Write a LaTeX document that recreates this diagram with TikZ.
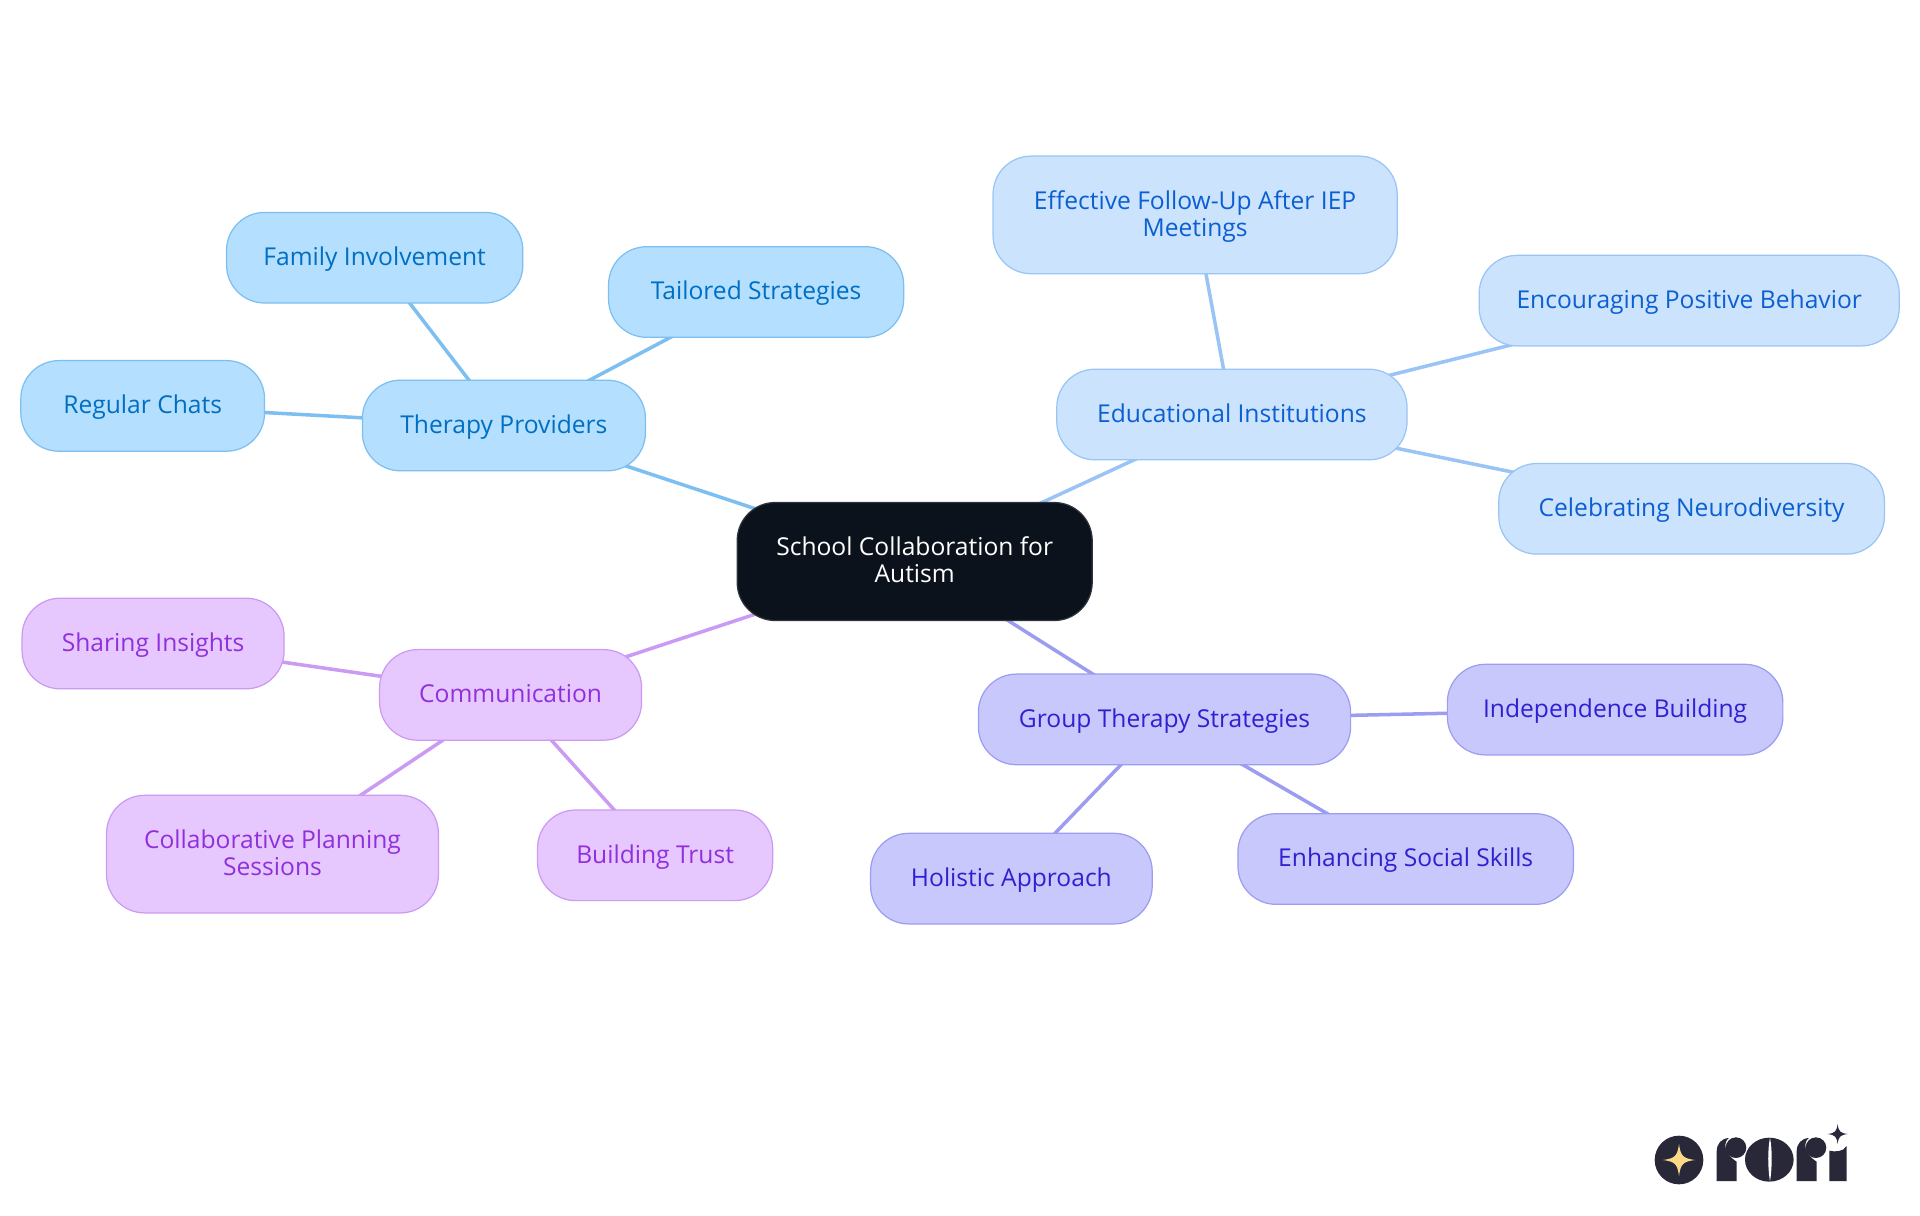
\documentclass[tikz,border=0pt]{standalone}
\usepackage{fontspec}
\setmainfont{Open Sans}
\usepackage{tikz}
\usetikzlibrary{backgrounds}
\definecolor{rootfill}{HTML}{0B121B}
\definecolor{rootline}{HTML}{2E343C}
\definecolor{therapyfill}{HTML}{B4DFFF}
\definecolor{therapyline}{HTML}{7CBFF0}
\definecolor{therapytext}{HTML}{006EC2}
\definecolor{schoolfill}{HTML}{CCE3FD}
\definecolor{schoolline}{HTML}{99C4F5}
\definecolor{schooltext}{HTML}{0B5FD1}
\definecolor{groupfill}{HTML}{C8C8FD}
\definecolor{groupline}{HTML}{9C9CF0}
\definecolor{grouptext}{HTML}{3020CF}
\definecolor{commfill}{HTML}{E6C8FE}
\definecolor{commline}{HTML}{CB9AF3}
\definecolor{commtext}{HTML}{9030DD}
\definecolor{logodark}{HTML}{292838}
\definecolor{logogold}{HTML}{FBD988}

\begin{document}
\begin{tikzpicture}[x=1cm, y=-1cm,
    box/.style={rectangle, draw, align=center, rounded corners=0.38cm, inner sep=0pt, minimum height=0.906cm, line width=0.35pt, text height=6.8pt, text depth=2.3pt, font=\fontsize{7}{7.75}\selectfont},
    tallbox/.style={box, minimum height=1.176cm, text height=14.5pt},
    rootbox/.style={tallbox, fill=rootfill, draw=rootline, text=white, minimum height=1.18cm},
    therapybox/.style={fill=therapyfill, draw=therapyline, text=therapytext},
    schoolbox/.style={fill=schoolfill, draw=schoolline, text=schooltext},
    groupbox/.style={fill=groupfill, draw=groupline, text=grouptext},
    commbox/.style={fill=commfill, draw=commline, text=commtext},
    link/.style={line width=1pt},
    sparkle/.pic={\path[fill] (0,-1) .. controls (0.1,-0.25) and (0.25,-0.1) .. (1,0) .. controls (0.25,0.1) and (0.1,0.25) .. (0,1) .. controls (-0.1,0.25) and (-0.25,0.1) .. (-1,0) .. controls (-0.25,-0.1) and (-0.1,-0.25) .. (0,-1) -- cycle;}]
    \useasboundingbox (0,0) rectangle (19.2,12.15);

    \node[rootbox, minimum width=3.55cm] (root) at (9.147,5.615) {School Collaboration for\\Autism};

    \node[box, therapybox, minimum width=2.83cm] (therapy) at (5.039,4.255) {Therapy Providers};
    \node[box, therapybox, minimum width=2.963cm] (family) at (3.747,2.577) {Family Involvement};
    \node[box, therapybox, minimum width=2.951cm] (tailored) at (7.561,2.92) {Tailored Strategies};
    \node[box, therapybox, minimum width=2.437cm] (chats) at (1.427,4.059) {Regular Chats};

    \node[box, schoolbox, minimum width=3.502cm] (school) at (12.319,4.145) {Educational Institutions};
    \node[tallbox, schoolbox, minimum width=4.041cm] (followup) at (11.951,2.149) {Effective Follow-Up After IEP\\Meetings};
    \node[box, schoolbox, minimum width=4.2cm] (behavior) at (16.892,3.006) {Encouraging Positive Behavior};
    \node[box, schoolbox, minimum width=3.857cm] (neuro) at (16.916,5.088) {Celebrating Neurodiversity};

    \node[box, groupbox, minimum width=3.722cm] (group) at (11.645,7.194) {Group Therapy Strategies};
    \node[box, groupbox, minimum width=3.355cm] (independence) at (16.151,7.096) {Independence Building};
    \node[box, groupbox, minimum width=2.816cm] (holistic) at (10.114,8.786) {Holistic Approach};
    \node[box, groupbox, minimum width=3.355cm] (social) at (14.057,8.59) {Enhancing Social Skills};

    \node[box, commbox, minimum width=2.62cm] (comm) at (5.106,6.949) {Communication};
    \node[box, commbox, minimum width=2.62cm] (insights) at (1.531,6.435) {Sharing Insights};
    \node[tallbox, commbox, minimum width=3.318cm] (planning) at (2.725,8.541) {Collaborative Planning\\Sessions};
    \node[box, commbox, minimum width=2.351cm] (trust) at (6.551,8.553) {Building Trust};

    \begin{scope}[on background layer]
        \draw[link, therapyline] (root.center) -- (therapy.center);
        \draw[link, therapyline] (therapy.center) -- (family.center);
        \draw[link, therapyline] (therapy.center) -- (tailored.center);
        \draw[link, therapyline] (therapy.center) -- (chats.center);
        \draw[link, schoolline] (root.center) -- (school.center);
        \draw[link, schoolline] (school.center) -- (followup.center);
        \draw[link, schoolline] (school.center) -- (behavior.center);
        \draw[link, schoolline] (school.center) -- (neuro.center);
        \draw[link, groupline] (root.center) -- (group.center);
        \draw[link, groupline] (group.center) -- (independence.center);
        \draw[link, groupline] (group.center) -- (holistic.center);
        \draw[link, groupline] (group.center) -- (social.center);
        \draw[link, commline] (root.center) -- (comm.center);
        \draw[link, commline] (comm.center) -- (insights.center);
        \draw[link, commline] (comm.center) -- (planning.center);
        \draw[link, commline] (comm.center) -- (trust.center);
    \end{scope}

    \begin{scope}[shift={(16.2,11)}, x=0.03333cm, y=-0.03333cm]
        \fill[logodark] (17.7,18) circle (7.3);
        \pic[logogold, scale=4.8] at (17.7,18) {sparkle};
        \fill[logodark] (29,24.3) -- (29,15.5) .. controls (29,13) and (30.5,11.5) .. (32.7,11.4) .. controls (31,12.5) and (31,16) .. (35,18.5) -- (35,24.3) -- cycle;
        \fill[logodark] (34.8,14.3) circle (3.1);
        \fill[logodark] (44.8,17.9) ellipse (7.3 and 6.6);
        \fill[white] (45,11.3) .. controls (44.3,15) and (44.3,20) .. (45,24.5) .. controls (45.7,20) and (45.7,15) .. (45,11.3) -- cycle;
        \fill[logodark] (53,24.3) -- (53,15.5) .. controls (53,13) and (54.5,11.5) .. (56.7,11.4) .. controls (55,12.5) and (55,16) .. (59,18.5) -- (59,24.3) -- cycle;
        \fill[logodark] (58.8,14.3) circle (3.1);
        \fill[logodark] (62.8,24.3) -- (62.8,15.2) .. controls (64.5,15.6) and (67,15.6) .. (68,13.8) -- (68,24.3) -- cycle;
        \pic[logodark, scale=3] at (65.3,10.2) {sparkle};
    \end{scope}
\end{tikzpicture}
\end{document}
